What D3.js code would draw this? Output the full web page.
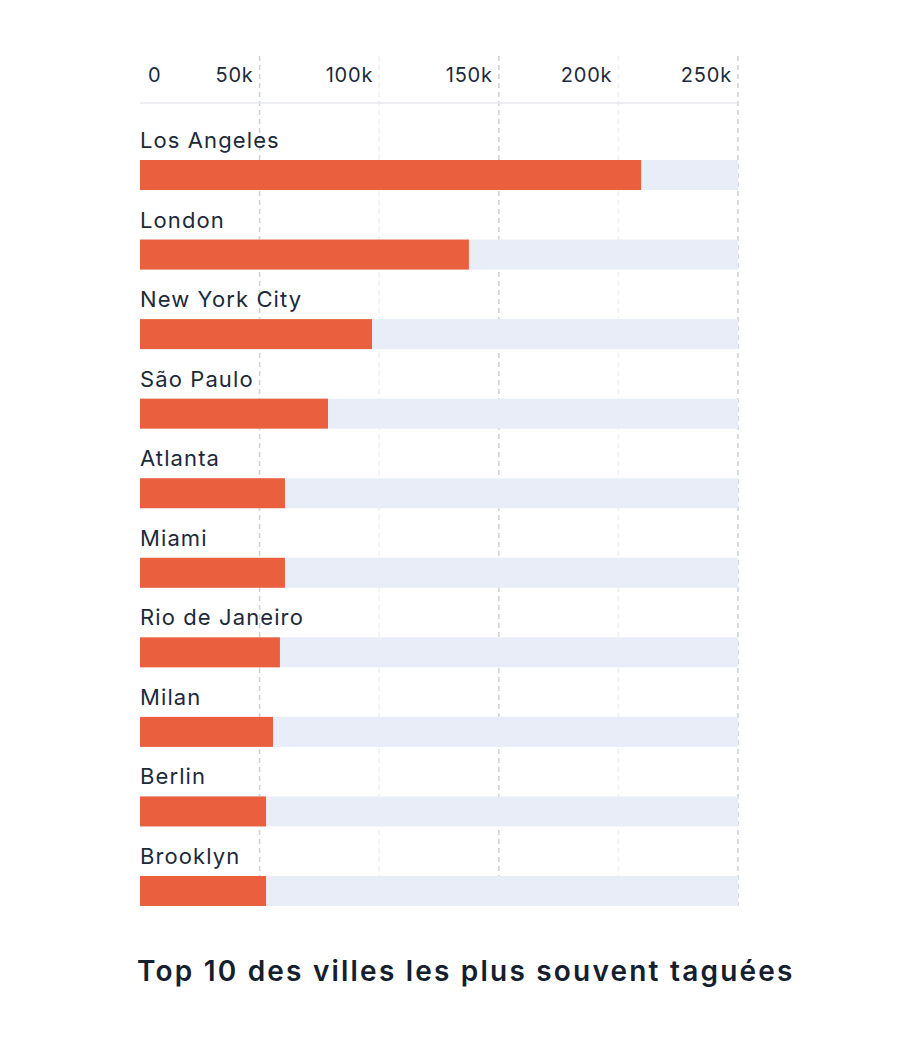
<!DOCTYPE html>
<html>
<head>
<meta charset="utf-8">
<script src="https://cdn.jsdelivr.net/npm/d3@7/dist/d3.min.js"></script>
<style>
  html, body { margin: 0; padding: 0; background: #ffffff; }
  svg { display: block; }
  text { font-family: "Inter", "Noto Sans", sans-serif; }
</style>
</head>
<body>
<svg id="chart" width="900" height="1058"></svg>
<script>
const cities = ["Los Angeles", "London", "New York City", "São Paulo", "Atlanta", "Miami", "Rio de Janeiro", "Milan", "Berlin", "Brooklyn"];
const values = [209500, 137500, 97000, 78600, 60600, 60600, 58500, 55600, 52700, 52700];
const tickValues = [0, 50000, 100000, 150000, 200000, 250000];
const tickLabels = ["0", "50k", "100k", "150k", "200k", "250k"];
const title = "Top 10 des villes les plus souvent taguées";

const svg = d3.select("#chart");
const x = d3.scaleLinear().domain([0, 250000]).range([140, 738]);
const y = d3.scaleBand().domain(cities).range([160, 906]).paddingInner(0.623).paddingOuter(0);

const textColor = "#1c2a3a";

// gridlines
svg.append("g").selectAll("line").data(tickValues.slice(1)).join("line")
  .attr("x1", d => x(d)).attr("x2", d => x(d))
  .attr("y1", 56).attr("y2", 906)
  .attr("stroke", (d, i) => i % 2 === 0 ? "#cfd3d9" : "#eef0f3")
  .attr("stroke-width", 1.6)
  .attr("stroke-dasharray", "5,4");

// axis baseline
svg.append("line")
  .attr("x1", x(0)).attr("x2", x(250000))
  .attr("y1", 103).attr("y2", 103)
  .attr("stroke", "#e7e9ed").attr("stroke-width", 1.5);

// tick labels
svg.append("g").selectAll("text").data(tickValues).join("text")
  .attr("x", (d, i) => i === 0 ? x(d) + 8 : x(d) - 6)
  .attr("y", 82)
  .attr("text-anchor", (d, i) => i === 0 ? "start" : "end")
  .attr("font-size", 20)
  .attr("letter-spacing", 0.8)
  .attr("fill", textColor)
  .text((d, i) => tickLabels[i]);

// background bars
svg.append("g").selectAll("rect").data(cities).join("rect")
  .attr("x", x(0)).attr("y", d => y(d))
  .attr("width", x(250000) - x(0)).attr("height", y.bandwidth())
  .attr("fill", "#e8edf7");

// value bars
svg.append("g").selectAll("rect").data(cities).join("rect")
  .attr("x", x(0)).attr("y", d => y(d))
  .attr("width", (d, i) => x(values[i]) - x(0)).attr("height", y.bandwidth())
  .attr("fill", "#ea603f");

// city labels
svg.append("g").selectAll("text").data(cities).join("text")
  .attr("x", 140).attr("y", d => y(d) - 12)
  .attr("font-size", 22)
  .attr("letter-spacing", 1.1)
  .attr("fill", textColor)
  .text(d => d);

// title
svg.append("text")
  .attr("x", 137).attr("y", 981)
  .attr("font-size", 28).attr("font-weight", 600)
  .attr("letter-spacing", 2.2)
  .attr("fill", "#15202e")
  .text(title);
</script>
</body>
</html>
